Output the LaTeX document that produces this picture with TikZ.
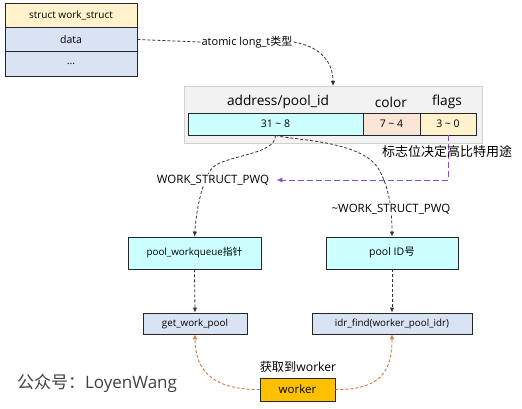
\documentclass[tikz,border=0pt]{standalone}
\usepackage{fontspec}
\setmainfont{Open Sans}
\newfontfamily\cjk{Noto Sans CJK SC}
\usetikzlibrary{arrows.meta}
\definecolor{hdr}{HTML}{FFF2CC}
\definecolor{lav}{HTML}{DAE3F3}
\definecolor{cyanc}{HTML}{CCFFFF}
\definecolor{peach}{HTML}{FBE5D6}
\definecolor{gbox}{HTML}{F2F2F2}
\definecolor{gline}{HTML}{D0D0D0}
\definecolor{purp}{RGB}{140,80,195}
\definecolor{orng}{RGB}{210,120,60}
\definecolor{gold}{HTML}{FFC000}
\definecolor{dk}{HTML}{333333}
\tikzset{
  cell/.style={draw=black!85, line width=0.8pt, inner sep=0pt, font=\fontsize{9.8}{12}\selectfont},
  lbl/.style={inner sep=1pt, font=\fontsize{11.5}{13}\selectfont},
  hd/.style={inner sep=0pt, font=\fontsize{13.7}{15}\selectfont},
  dline/.style={draw=dk, line width=0.8pt, dash pattern=on 3pt off 2pt, -{Latex[length=5pt,width=4.5pt]}},
  pline/.style={draw=purp, line width=1pt, dash pattern=on 6pt off 3pt, -{Latex[length=6pt,width=5pt]}},
  oline/.style={draw=orng, line width=0.9pt, dash pattern=on 3pt off 2pt, -{Latex[length=5pt,width=4.5pt]}},
}
\begin{document}
\begin{tikzpicture}[x=1pt,y=-1pt]
\useasboundingbox (0,0) rectangle (522,409);
% struct
\node[cell, fill=hdr, minimum width=132pt, minimum height=24pt, font=\fontsize{10}{12}\selectfont] (s1) at (71,15) {struct work\_struct};
\node[cell, fill=lav, minimum width=132pt, minimum height=24.5pt, font=\fontsize{10.5}{12}\selectfont] (s2) at (71,39.5) {data};
\node[cell, fill=lav, minimum width=132pt, minimum height=24.5pt, font=\fontsize{10.5}{12}\selectfont] (s3) at (71,64) {...};
% grey box
\node[draw=gline, fill=gbox, line width=0.8pt, minimum width=298pt, minimum height=57pt, inner sep=0pt] (gb) at (333,114.5) {};
\node[hd] (h1) at (278,102) {address/pool\_id};
\node[hd] (h2) at (391,102) {color};
\node[hd] (h3) at (447,102) {flags};
\node[cell, fill=cyanc, minimum width=175pt, minimum height=22pt, font=\fontsize{10.5}{12}\selectfont] (c1) at (275.5,124) {31 \textasciitilde\ 8};
\node[cell, fill=peach, minimum width=57pt, minimum height=22pt, font=\fontsize{10.5}{12}\selectfont] (c2) at (391.5,124) {7 \textasciitilde\ 4};
\node[cell, fill=hdr, minimum width=56pt, minimum height=22pt, font=\fontsize{10.5}{12}\selectfont] (c3) at (448,124) {3 \textasciitilde\ 0};
% pool boxes
\node[cell, fill=cyanc, minimum width=133pt, minimum height=32pt] (p1) at (194.5,253) {pool\_workqueue{\cjk 指针}};
\node[cell, fill=cyanc, minimum width=132pt, minimum height=32pt, font=\fontsize{10.5}{12}\selectfont] (p2) at (392,253) {pool ID{\cjk 号}};
% bottom boxes
\node[cell, fill=lav, minimum width=104pt, minimum height=21pt] (g1) at (195,323.5) {get\_work\_pool};
\node[cell, fill=lav, minimum width=160pt, minimum height=21pt] (g2) at (392,323.5) {idr\_find(worker\_pool\_idr)};
\node[cell, fill=gold, minimum width=75pt, minimum height=23pt, font=\fontsize{11.5}{13}\selectfont] (w) at (297.5,389.5) {worker};
% connectors
\coordinate (gin) at (333,86);
\draw[dline] (c1.south) .. controls (276,155) and (225,155) .. (212,168) .. controls (200,185) and (196,215) .. (p1.north);
\draw[dline] (c1.south) .. controls (290,140) and (360,140) .. (378,168) .. controls (388,185) and (392,205) .. (p2.north);
\draw[dline] (p1.south) -- (g1.north);
\draw[dline] (p2.south) -- (g2.north);
\draw[oline] (w.west) .. controls (215,390) and (195,372) .. (g1.south);
\draw[oline] (w.east) .. controls (380,390) and (392,372) .. (g2.south);
% labels
\node[lbl, fill=white, font=\fontsize{11}{13}\selectfont] (la) at (247,42) {atomic long\_t{\cjk 类型}};
\draw[dline, -] (s2.east) -- (la.west);
\draw[dline] (la.east) .. controls (318,46) and (333,60) .. (gin);
\node[lbl, fill=white] (l1) at (213,180) {WORK\_STRUCT\_PWQ};
\node[lbl, fill=white] (l2) at (391,209) {\textasciitilde WORK\_STRUCT\_PWQ};
\draw[pline] (c3.south) |- ([xshift=6pt]l1.east);
\node[inner sep=0pt, font=\cjk\fontsize{13}{15}\selectfont] (lz) at (447,152) {标志位决定高比特用途};
\node[inner sep=0pt, font=\fontsize{12.2}{14}\selectfont] (lw) at (298,367) {{\cjk 获取到}worker};
\node[inner sep=0pt, text=black!75, font=\fontsize{17}{19}\selectfont] (wm) at (97,383) {{\cjk 公众号：}LoyenWang};
\end{tikzpicture}
\end{document}
